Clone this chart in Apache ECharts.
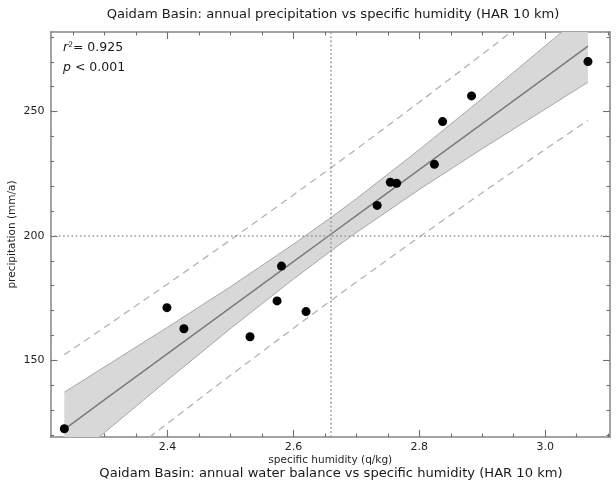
<!DOCTYPE html>
<html>
<head>
<meta charset="utf-8">
<script src="https://cdn.jsdelivr.net/npm/echarts@6/dist/echarts.min.js"></script>
<style>
html,body{margin:0;padding:0;background:#fff;}
#chart{width:616px;height:484px;}
</style>
</head>
<body>
<div id="chart"></div>
<script>
// ---- data ----
const humidity = [2.236, 2.399, 2.426, 2.531, 2.574, 2.581, 2.620, 2.733, 2.754, 2.764, 2.824, 2.837, 2.883, 3.068];
const precipitation = [122.5, 171.2, 162.7, 159.5, 173.9, 187.9, 169.6, 212.3, 221.6, 221.2, 228.8, 246.0, 256.3, 270.1];

// regression fit, confidence band and prediction interval
const fitX     = [2.236, 2.30, 2.40, 2.50, 2.60, 2.659, 2.70, 2.80, 2.90, 3.00, 3.068];
const fitY     = [122.3, 134.2, 152.7, 171.2, 189.7, 200.6, 208.2, 226.7, 245.2, 263.7, 276.3];
const ciUpper  = [137.2, 147.4, 163.3, 179.6, 196.7, 207.3, 215.0, 234.7, 255.3, 276.4, 290.8];
const ciLower  = [107.4, 121.0, 142.1, 162.8, 182.7, 193.9, 201.4, 218.7, 235.1, 251.0, 261.8];
const piUpper  = [152.3, 163.3, 180.7, 198.4, 216.5, 227.3, 234.9, 253.8, 273.0, 292.6, 306.1];
const piLower  = [92.3, 105.1, 124.7, 144.0, 162.9, 173.9, 181.5, 199.6, 217.4, 234.8, 246.5];

// reference lines (mean humidity, 200 mm/a)
const meanHumidity = [2.659];
const refPrecip = [200];

// axis ranges and ticks
const xRange = [2.214, 3.103];
const yRange = [119.2, 282.0];
const xMajorTicks = [2.4, 2.6, 2.8, 3.0];
const xMinorTicks = [2.25, 2.3, 2.35, 2.45, 2.5, 2.55, 2.65, 2.7, 2.75, 2.85, 2.9, 2.95, 3.05, 3.1];
const yMajorTicks = [150, 200, 250];
const yMinorTicks = [120, 130, 140, 160, 170, 180, 190, 210, 220, 230, 240, 260, 270, 280];

const titleTop = 'Qaidam Basin: annual precipitation vs specific humidity (HAR 10 km)';
const titleBottom = 'Qaidam Basin: annual water balance vs specific humidity (HAR 10 km)';
const xName = 'specific humidity (q/kg)';
const yName = 'precipitation (mm/a)';

// ---- chart ----
const FONT = 'DejaVu Sans';
const FRAME = '#858585';
const TICK = '#707070';
const LABEL = '#1f1f1f';
const chart = echarts.init(document.getElementById('chart'), null, {renderer: 'canvas'});

function xAx(pos, ticks, len, labels, line) {
  return {
    type: 'value', position: pos, min: xRange[0], max: xRange[1], offset: 0,
    splitLine: {show: false},
    axisLine: {show: line, onZero: false, lineStyle: {color: FRAME, width: 1.5}},
    axisTick: {show: true, inside: true, length: len, customValues: ticks, lineStyle: {color: TICK, width: 1.1}},
    axisLabel: labels ? {show: true, customValues: xMajorTicks, margin: 5, color: LABEL, fontFamily: FONT, fontSize: 11,
      formatter: v => Number(v).toFixed(1)} : {show: false},
    name: labels ? xName : '', nameLocation: 'middle', nameGap: 18, nameMoveOverlap: false,
    nameTextStyle: {color: LABEL, fontFamily: FONT, fontSize: 10.5}
  };
}
function yAx(pos, ticks, len, labels, line) {
  return {
    type: 'value', position: pos, min: yRange[0], max: yRange[1], offset: 0,
    splitLine: {show: false},
    axisLine: {show: line, onZero: false, lineStyle: {color: FRAME, width: 1.5}},
    axisTick: {show: true, inside: true, length: len, customValues: ticks, lineStyle: {color: TICK, width: 1.1}},
    axisLabel: labels ? {show: true, customValues: yMajorTicks, margin: 6, color: LABEL, fontFamily: FONT, fontSize: 11,
      formatter: v => String(Math.round(v))} : {show: false},
    name: labels ? yName : '', nameLocation: 'middle', nameGap: 33, nameRotate: 90, nameMoveOverlap: false,
    nameTextStyle: {color: LABEL, fontFamily: FONT, fontSize: 10.5}
  };
}

const bandData = fitX.map((x, i) => [x, ciUpper[i], ciLower[i]]);
const pair = arr => fitX.map((x, i) => [x, arr[i]]);

const option = {
  animation: false,
  backgroundColor: '#ffffff',
  textStyle: {fontFamily: FONT},
  title: [
    {text: titleTop, left: 328, top: 3, textAlign: 'center',
     textStyle: {fontFamily: FONT, fontSize: 13.1, fontWeight: 'normal', color: '#1a1a1a'}},
    {text: titleBottom, left: 326, top: 462, textAlign: 'center',
     textStyle: {fontFamily: FONT, fontSize: 13.1, fontWeight: 'normal', color: '#1a1a1a'}}
  ],
  grid: {left: 50.5, right: 6, top: 32, bottom: 47, containLabel: false, outerBoundsMode: 'none', show: false},
  xAxis: [
    xAx('bottom', xMajorTicks, 7, true, true),
    xAx('bottom', xMinorTicks, 3.5, false, false),
    xAx('top', xMajorTicks, 7, false, true),
    xAx('top', xMinorTicks, 3.5, false, false)
  ],
  yAxis: [
    yAx('left', yMajorTicks, 7, true, true),
    yAx('left', yMinorTicks, 3.5, false, false),
    yAx('right', yMajorTicks, 7, false, true),
    yAx('right', yMinorTicks, 3.5, false, false)
  ],
  graphic: [
    {type: 'text', left: 63, top: 41, z: 100,
     style: {text: '{i|r}{s|2}{n|= 0.925}', fill: '#1a1a1a',
       rich: {
         i: {fontFamily: FONT, fontSize: 12.5, fontStyle: 'italic', fill: '#1a1a1a'},
         s: {fontFamily: FONT, fontSize: 7.5, verticalAlign: 'top', fill: '#1a1a1a', padding: [0, 0, 6, 0]},
         n: {fontFamily: FONT, fontSize: 12.5, fill: '#1a1a1a'}
       }}},
    {type: 'text', left: 63, top: 61, z: 100,
     style: {text: '{i|p}{n| < 0.001}', fill: '#1a1a1a',
       rich: {
         i: {fontFamily: FONT, fontSize: 12.5, fontStyle: 'italic', fill: '#1a1a1a'},
         n: {fontFamily: FONT, fontSize: 12.5, fill: '#1a1a1a'}
       }}}
  ],
  series: [
    {
      type: 'custom', name: 'ci-band', silent: true, clip: true, z: 1,
      xAxisIndex: 0, yAxisIndex: 0,
      data: bandData,
      encode: {x: 0, y: [1, 2]},
      renderItem: function (params, api) {
        if (params.dataIndex !== 0) return null;
        const pts = [];
        for (let i = 0; i < bandData.length; i++) pts.push(api.coord([bandData[i][0], bandData[i][1]]));
        for (let i = bandData.length - 1; i >= 0; i--) pts.push(api.coord([bandData[i][0], bandData[i][2]]));
        const cs = params.coordSys;
        return {
          type: 'polygon', shape: {points: pts},
          style: {fill: '#d8d8d8', stroke: null},
          clipPath: {type: 'rect', shape: {x: cs.x, y: cs.y, width: cs.width, height: cs.height}}
        };
      }
    },
    {type: 'line', name: 'ci-upper', data: pair(ciUpper), showSymbol: false, silent: true, z: 2,
     lineStyle: {color: '#a6a6a6', width: 1}},
    {type: 'line', name: 'ci-lower', data: pair(ciLower), showSymbol: false, silent: true, z: 2,
     lineStyle: {color: '#a6a6a6', width: 1}},
    {type: 'line', name: 'pi-upper', data: pair(piUpper), showSymbol: false, silent: true, z: 2,
     lineStyle: {color: '#b3b3b3', width: 1.3, type: [7, 5]}},
    {type: 'line', name: 'pi-lower', data: pair(piLower), showSymbol: false, silent: true, z: 2,
     lineStyle: {color: '#b3b3b3', width: 1.3, type: [7, 5]}},
    {type: 'line', name: 'refs', data: [], silent: true, z: 3,
     markLine: {silent: true, symbol: 'none', label: {show: false},
       lineStyle: {color: '#969696', width: 1.6, type: [1.6, 2.6]},
       data: [{xAxis: meanHumidity[0]}, {yAxis: refPrecip[0]}]}},
    {type: 'line', name: 'fit', data: pair(fitY), showSymbol: false, silent: true, z: 4,
     lineStyle: {color: '#7a7a7a', width: 1.5}},
    {type: 'scatter', name: 'points', z: 5,
     data: humidity.map((x, i) => [x, precipitation[i]]),
     symbol: 'circle', symbolSize: 9,
     itemStyle: {color: '#000000', opacity: 1}}
  ]
};
chart.setOption(option);
</script>
</body>
</html>
